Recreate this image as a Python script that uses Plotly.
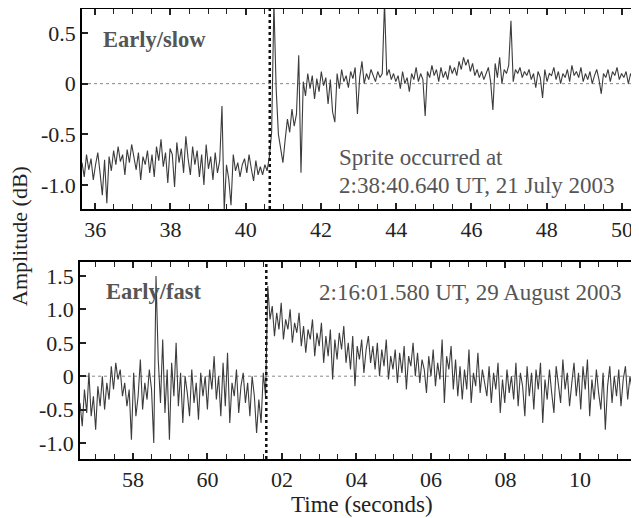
import plotly.graph_objects as go

# page size; the plot sits inside the page body's default 8px margin
PAGE_W, PAGE_H = 639, 518
OFF = 8
W, H = PAGE_W - OFF, PAGE_H - OFF

# ---------------- data ----------------
slow_t0, slow_dt = 35.65, 0.06
slow_vals = [
    -0.78, -0.92, -0.70, -0.85, -0.74, -0.95, -0.80, -0.68, -0.88, -1.10,
    -0.75, -1.18, -0.72, -0.86, -0.66, -0.80, -0.62, -0.77, -0.70, -0.90,
    -0.65, -0.78, -0.60, -0.74, -0.85, -0.68, -0.95, -0.72, -0.80, -0.66,
    -0.88, -0.70, -0.92, -0.62, -0.76, -0.55, -0.82, -0.68, -0.98, -0.64,
    -0.70, -1.02, -0.58, -0.78, -0.64, -0.88, -0.52, -0.74, -0.90, -0.62,
    -0.80, -0.66, -0.92, -0.70, -1.00, -0.60, -0.84, -0.72, -0.95, -0.68,
    -0.88, -0.76, -0.22, -1.25, -0.80, -0.94, -1.20, -0.70, -0.86, -0.78,
    -0.92, -0.80, -0.74, -0.88, -0.70, -0.84, -0.96, -0.76, -0.90, -0.82,
    -0.90, -0.80, -0.86, -0.72, -0.48, 0.80, -0.05, -0.50, -0.62, -0.78,
    -0.55, -0.35, -0.48, -0.25, -0.42, -0.30, 0.28, -0.88, 0.02, -0.12,
    0.10, -0.05, 0.08, -0.15, 0.05, -0.08, 0.12, -0.02, 0.06, -0.20,
    0.04, -0.28, -0.38, 0.10, -0.05, 0.14, 0.02, 0.08, -0.04, 0.12,
    0.05, 0.16, -0.30, 0.06, 0.22, 0.00, 0.10, 0.04, 0.14, 0.08,
    0.02, 0.12, 0.06, 0.10, 0.80, 0.08, 0.14, 0.04, 0.10, 0.02,
    0.08, -0.05, 0.12, 0.00, 0.06, -0.08, 0.10, 0.04, 0.16, 0.02,
    0.10, 0.04, -0.32, 0.12, 0.06, 0.18, 0.08, 0.14, 0.02, 0.16,
    0.06, 0.12, 0.04, 0.18, 0.10, 0.16, 0.08, 0.22, 0.14, 0.26,
    0.18, 0.24, 0.12, 0.20, 0.08, 0.14, 0.06, 0.12, 0.04, 0.10,
    0.16, 0.02, -0.26, 0.20, 0.06, 0.26, 0.00, 0.14, 0.10, 0.18,
    0.62, 0.02, 0.14, 0.10, 0.16, 0.06, 0.12, 0.08, 0.14, 0.04,
    0.10, -0.04, 0.12, 0.06, -0.14, 0.14, 0.02, 0.10, 0.08, 0.16,
    0.04, 0.12, 0.00, 0.10, 0.06, 0.14, 0.02, 0.18, 0.08, 0.12,
    0.06, 0.16, 0.02, 0.10, 0.04, 0.12, 0.00, 0.08, 0.14, 0.04,
    -0.10, 0.10, 0.06, 0.14, 0.02, 0.12, 0.08, 0.16, 0.04, 0.10,
    0.06, 0.12, 0.00, 0.10, 0.04, 0.08, 0.02,
]

fast_t0, fast_dt = 56.58, 0.06
fast_vals = [
    -0.40, -0.75, -0.20, -0.55, 0.05, -0.60, -0.30, -0.80, -0.15, -0.45,
    0.00, -0.50, -0.10, -0.35, 0.15, -0.20, 0.20, -0.05, 0.10, -0.30,
    -0.10, -0.45, -0.20, -0.95, 0.05, -0.60, -0.30, 0.25, -0.50, -0.10,
    -0.35, 0.10, -0.20, -1.00, 1.50, 0.25, -0.40, 0.55, -0.55, 0.10,
    -0.95, 0.20, -0.30, 0.50, -0.45, 0.05, -0.70, 0.00, -0.25, -0.60,
    0.10, -0.40, -0.10, -0.65, 0.05, -0.30, 0.00, -0.50, 0.10, -0.20,
    0.30, -0.35, 0.00, -0.60, 0.20, -0.45, 0.35, -0.70, -0.10, -0.30,
    0.10, -0.55, -0.15, 0.05, -0.40, -0.10, -0.60, 0.00, -0.30, -0.85,
    -0.35, -0.70, 0.05, -0.30, 1.35, 0.85, 1.05, 0.60, 0.95, 0.70,
    1.10, 0.55, 0.85, 0.70, 1.00, 0.50, 0.80, 0.65, 0.95, 0.45,
    0.75, 0.35, 0.70, 0.55, 0.85, 0.30, 0.65, 0.45, 0.80, 0.20,
    0.60, 0.30, 0.70, -0.05, 0.55, 0.25, 0.65, 0.40, 0.75, 0.20,
    0.50, 0.10, 0.60, -0.15, 0.45, 0.25, 0.55, 0.05, 0.40, 0.60,
    0.20, 0.45, 0.10, 0.50, 0.00, 0.40, 0.15, 0.55, -0.05, 0.30,
    0.10, 0.40, -0.10, 0.35, 0.05, 0.45, -0.20, 0.30, 0.15, 0.50,
    0.00, 0.35, -0.10, 0.25, 0.10, -0.25, 0.30, 0.00, 0.40, -0.15,
    0.20, -0.05, 0.55, -0.40, 0.30, 0.10, 0.45, -0.20, 0.25, -0.30,
    0.15, -0.35, 0.10, -0.20, 0.40, -0.40, 0.05, -0.15, 0.35, -0.25,
    0.10, -0.10, -0.30, 0.15, -0.40, 0.05, -0.20, 0.20, -0.55, -0.05,
    -0.40, 0.10, -0.25, 0.00, -0.35, 0.20, -0.45, 0.05, -0.15, -0.60,
    0.15, -0.30, 0.05, -0.50, 0.10, -0.20, 0.20, -0.70, -0.05, -0.35,
    0.10, -0.25, -0.55, 0.15, -0.10, -0.40, 0.25, -0.20, 0.05, -0.45,
    -0.10, 0.20, -0.30, 0.05, -0.50, 0.15, -0.20, 0.25, -0.60, -0.05,
    -0.35, 0.10, -0.25, -0.50, 0.05, -0.80, -0.15, 0.15, -0.40, 0.00,
    -0.30, 0.10, -0.45, -0.05, 0.15, -0.35, 0.00, -0.20, 0.05, -0.10,
]

slow_sprite_time = 40.64
fast_sprite_time = 61.58

slow_xticks = [36, 38, 40, 42, 44, 46, 48, 50]
slow_xtext = ["36", "38", "40", "42", "44", "46", "48", "50"]
fast_xticks = [58, 60, 62, 64, 66, 68, 70]
fast_xtext = ["58", "60", "02", "04", "06", "08", "10"]
slow_yticks = [0.5, 0, -0.5, -1.0]
slow_ytext = ["0.5", "0", "-0.5", "-1.0"]
fast_yticks = [1.5, 1.0, 0.5, 0, -0.5, -1.0]
fast_ytext = ["1.5", "1.0", "0.5", "0", "-0.5", "-1.0"]

# ---------------- figure ----------------
slow_t = [slow_t0 + slow_dt * i for i in range(len(slow_vals))]
fast_t = [fast_t0 + fast_dt * i for i in range(len(fast_vals))]

FONT = "Liberation Serif, Times New Roman, serif"
TRACE_COLOR = "#3c3c3c"

fig = go.Figure()
fig.add_trace(go.Scatter(x=slow_t, y=slow_vals, mode="lines",
                         line=dict(color=TRACE_COLOR, width=1.1),
                         xaxis="x", yaxis="y", showlegend=False))
fig.add_trace(go.Scatter(x=fast_t, y=fast_vals, mode="lines",
                         line=dict(color=TRACE_COLOR, width=1.1),
                         xaxis="x2", yaxis="y2", showlegend=False))


def px(x):
    return (x - OFF) / W


def py(y):
    return 1 - (y - OFF) / H


axis_common = dict(
    showline=True, linecolor="black", linewidth=1.5, mirror="ticks",
    ticks="inside", ticklen=6, tickcolor="#222", tickwidth=1.5,
    showgrid=False, zeroline=False,
    tickfont=dict(family=FONT, size=22, color="#222"),
)

fig.update_layout(
    width=W, height=H,
    margin=dict(l=0, r=0, t=0, b=0),
    paper_bgcolor="white", plot_bgcolor="white",
    font=dict(family=FONT, color="#222"),
    xaxis=dict(domain=[px(82), px(637)], range=[35.65, 50.40],
               tickvals=slow_xticks, ticktext=slow_xtext, anchor="y",
               minor=dict(dtick=0.5, ticks="inside", ticklen=5, tickcolor="#222", tickwidth=1.2),
               **axis_common),
    yaxis=dict(domain=[py(209), py(9)], range=[-1.237, 0.737],
               tickvals=slow_yticks, ticktext=slow_ytext, anchor="x",
               **axis_common),
    xaxis2=dict(domain=[px(80), px(637)], range=[56.58, 71.53],
                tickvals=fast_xticks, ticktext=fast_xtext, anchor="y2",
                minor=dict(dtick=0.5, ticks="inside", ticklen=5, tickcolor="#222", tickwidth=1.2),
                **axis_common),
    yaxis2=dict(domain=[py(459), py(262)], range=[-1.24, 1.71],
                tickvals=fast_yticks, ticktext=fast_ytext, anchor="x2",
                **axis_common),
)

# zero reference lines
fig.add_shape(type="line", xref="x domain", yref="y", x0=0, x1=1, y0=0, y1=0,
              line=dict(color="#888", width=1, dash="dot"), layer="below")
fig.add_shape(type="line", xref="x2 domain", yref="y2", x0=0, x1=1, y0=0, y1=0,
              line=dict(color="#888", width=1, dash="dot"), layer="below")
# sprite onset markers
fig.add_shape(type="line", xref="x", yref="y domain", x0=slow_sprite_time, x1=slow_sprite_time,
              y0=0, y1=1, line=dict(color="#111", width=2.5, dash="dot"))
fig.add_shape(type="line", xref="x2", yref="y2 domain", x0=fast_sprite_time, x1=fast_sprite_time,
              y0=0, y1=1, line=dict(color="#111", width=2.5, dash="dot"))

ann = []
ann.append(dict(text="<b>Early/slow</b>", x=px(101), y=py(39), xanchor="left", yanchor="middle",
                font=dict(family=FONT, size=22.5, color="#555")))
ann.append(dict(text="<b>Early/fast</b>", x=px(104), y=py(291), xanchor="left", yanchor="middle",
                font=dict(family=FONT, size=22.5, color="#555")))
ann.append(dict(text="Sprite occurred at", x=px(337), y=py(157), xanchor="left", yanchor="middle",
                font=dict(family=FONT, size=23, color="#555")))
ann.append(dict(text="2:38:40.640 UT, 21 July 2003", x=px(337), y=py(185), xanchor="left", yanchor="middle",
                font=dict(family=FONT, size=23, color="#555")))
ann.append(dict(text="2:16:01.580 UT, 29 August 2003", x=px(317), y=py(292), xanchor="left", yanchor="middle",
                font=dict(family=FONT, size=23, color="#555")))
ann.append(dict(text="Amplitude (dB)", x=px(20), y=py(236), xanchor="center", yanchor="middle",
                textangle=-90, font=dict(family=FONT, size=22, color="#222")))
ann.append(dict(text="Time (seconds)", x=px(362), y=py(504), xanchor="center", yanchor="middle",
                font=dict(family=FONT, size=23, color="#222")))
for a in ann:
    a.update(xref="paper", yref="paper", showarrow=False)
fig.update_layout(annotations=ann)

fig.write_html("out.html")
